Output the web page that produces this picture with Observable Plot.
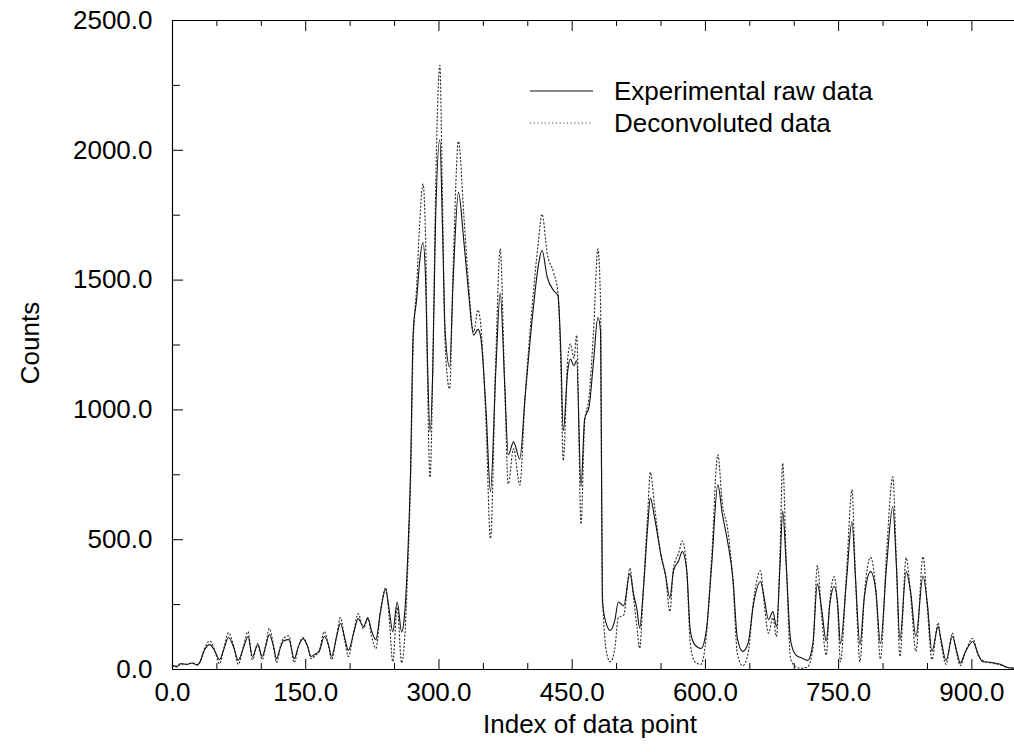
<!DOCTYPE html>
<html><head><meta charset="utf-8">
<script src="https://cdn.jsdelivr.net/npm/d3@7"></script>
<script src="https://cdn.jsdelivr.net/npm/@observablehq/plot@0.6"></script>
<style>body{margin:0;background:#fff} svg{display:block}</style>
</head><body><div id="chart"></div>
<script>
// Index of data point
const index = [0,5,9,16,22,28,31,36,42,47,53,58,63,69,74,80,85,90,96,101,105,109,114,117,122,125,131,137,142,147,152,156,161,165,171,176,179,185,189,194,198,204,209,215,220,224,229,234,240,244,248,253,258,261,265,268,271,275,278,282,285,287,290,293,296,301,304,307,312,316,322,328,333,339,344,347,353,358,364,369,374,378,384,391,397,405,412,416,422,429,434,437,440,445,448,452,455,460,464,469,474,479,482,484,489,493,498,502,508,515,519,523,526,530,535,538,543,550,555,560,564,570,574,579,583,588,595,601,607,614,619,625,631,636,642,648,654,662,666,671,676,680,684,687,691,696,702,708,715,721,726,731,736,740,745,749,752,759,765,769,774,779,786,792,797,804,811,815,819,826,831,837,845,850,855,862,865,871,878,883,887,893,901,907,912,921,932,940,948];
// Experimental raw data (counts)
const rawCounts = [15,12,22,20,25,18,30,75,96,75,38,80,123,85,35,85,127,50,96,50,90,135,85,42,90,110,115,42,90,119,90,50,60,69,127,90,50,130,177,120,73,140,196,165,200,150,115,220,308,230,145,260,145,200,450,760,1300,1430,1560,1646,1500,1200,915,1150,1700,2040,1700,1300,1165,1500,1838,1650,1465,1288,1310,1280,1000,685,1150,1450,1100,827,877,811,1050,1350,1558,1615,1510,1460,1440,1250,920,1150,1196,1170,1190,705,965,1012,1185,1356,1300,262,170,150,190,260,246,370,292,230,160,300,550,660,580,440,365,275,380,420,454,380,150,96,81,150,400,711,600,492,350,120,70,100,250,338,280,192,223,165,400,610,400,110,55,45,35,100,330,230,110,250,320,250,100,350,570,350,96,280,377,300,100,400,627,400,115,377,300,127,360,250,70,165,120,35,127,70,25,70,108,60,30,28,20,8,5];
// Deconvoluted data (counts)
const deconvCounts = [15,10,22,20,25,18,28,80,110,80,22,85,142,90,20,90,146,38,100,38,95,158,85,27,95,120,130,27,92,123,90,42,55,70,146,85,38,135,200,110,50,145,215,158,196,130,81,220,315,200,30,240,25,100,400,720,1250,1480,1700,1870,1650,1150,740,1150,1800,2327,1800,1250,1081,1550,2035,1750,1500,1300,1385,1330,950,504,1200,1620,1100,715,850,711,1050,1400,1650,1754,1600,1530,1450,1200,805,1200,1254,1200,1288,560,950,1050,1300,1620,1400,300,60,30,80,200,210,390,280,160,81,300,600,760,620,440,365,223,390,450,495,380,100,30,20,130,430,827,640,542,340,60,15,60,260,380,260,140,200,127,450,795,420,40,10,5,10,80,400,200,55,260,358,230,30,380,692,350,30,290,432,300,40,450,742,420,50,430,290,70,435,230,38,180,110,20,140,60,15,70,120,55,35,25,18,8,5];

const xTickLabels = [0,150,300,450,600,750,900];
const xMinorTicks = [0,50,100,150,200,250,300,350,400,450,500,550,600,650,700,750,800,850,900];
const yTickLabels = [0,500,1000,1500,2000,2500];
const yMinorTicks = [0,250,500,750,1000,1250,1500,1750,2000,2250,2500];

const rows = index.map((x, i) => ({x, raw: rawCounts[i], dec: deconvCounts[i]}));

const W = 1014, H = 752, ML = 172, MR = 0, MT = 20, MB = 83;
const xMax = 948, yMax = 2500;
const xPerPx = xMax / (W - ML - MR);
const yPerPx = yMax / (H - MT - MB);
const isMajorX = d => d % 150 === 0;
const isMajorY = d => d % 500 === 0;
const dotStyle = "1.1,2.6";

const chart = Plot.plot({
  width: W, height: H,
  marginLeft: ML, marginRight: MR, marginTop: MT, marginBottom: MB,
  style: {fontFamily: "'Liberation Sans', Arial, Helvetica, sans-serif", fontSize: "26px", background: "#fff", color: "#000"},
  x: {domain: [0, xMax], label: null},
  y: {domain: [0, yMax], label: null},
  marks: [
    Plot.axisX({ticks: xTickLabels, tickFormat: d => d.toFixed(1), tickSize: 0, tickPadding: 13, fontSize: 26, label: null}),
    Plot.axisY({ticks: yTickLabels, tickFormat: d => d.toFixed(1), tickSize: 0, tickPadding: 20, fontSize: 26, label: null}),
    Plot.ruleY([0, yMax], {stroke: "#000", strokeWidth: 1.2}),
    Plot.ruleX([0], {stroke: "#000", strokeWidth: 1.2}),
    // inward ticks, bottom
    Plot.ruleX(xMinorTicks, {x: d => d, y1: () => 0, y2: d => (isMajorX(d) ? 10 : 6) * yPerPx, stroke: "#000"}),
    // inward ticks, top
    Plot.ruleX(xMinorTicks, {x: d => d, y1: () => yMax, y2: d => yMax - (isMajorX(d) ? 11 : 6) * yPerPx, stroke: "#000"}),
    // inward ticks, left
    Plot.ruleY(yMinorTicks, {y: d => d, x1: () => 0, x2: d => (isMajorY(d) ? 11 : 8) * xPerPx, stroke: "#000"}),
    Plot.line(rows, {x: "x", y: "dec", stroke: "#333", strokeWidth: 1.2, strokeDasharray: dotStyle, curve: "monotone-x"}),
    Plot.line(rows, {x: "x", y: "raw", stroke: "#111", strokeWidth: 1.1, curve: "monotone-x"})
  ]
});

const svg = d3.select(chart);
const font = "'Liberation Sans', Arial, Helvetica, sans-serif";
svg.append("text").attr("transform", "translate(30,343) rotate(-90)")
  .attr("text-anchor", "middle").attr("dominant-baseline", "central")
  .attr("font-family", font).attr("font-size", 26).attr("fill", "#000").text("Counts");
svg.append("text").attr("x", 590).attr("y", 724)
  .attr("text-anchor", "middle").attr("dominant-baseline", "central")
  .attr("font-family", font).attr("font-size", 26).attr("fill", "#000").text("Index of data point");

const legendItems = [
  {label: "Experimental raw data", dash: null, y: 91},
  {label: "Deconvoluted data", dash: dotStyle, y: 123}
];
const lg = svg.append("g");
legendItems.forEach(it => {
  const l = lg.append("line").attr("x1", 530).attr("x2", 593).attr("y1", it.y).attr("y2", it.y)
    .attr("stroke", it.dash ? "#333" : "#111").attr("stroke-width", 1.1);
  if (it.dash) l.attr("stroke-dasharray", it.dash);
  lg.append("text").attr("x", 614).attr("y", it.y).attr("text-anchor", "start").attr("dominant-baseline", "central")
    .attr("font-family", font).attr("font-size", 26).attr("fill", "#000").text(it.label);
});

document.getElementById("chart").appendChild(chart);
</script>
</body></html>
